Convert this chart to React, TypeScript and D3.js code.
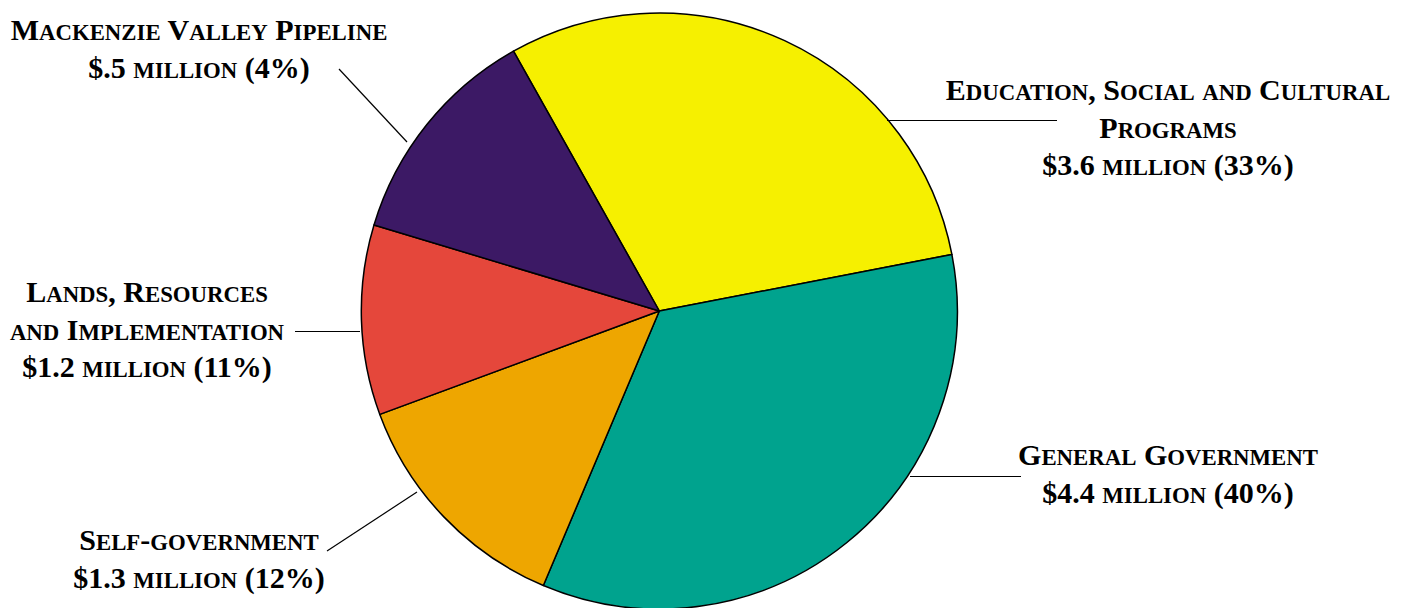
import React from "react";
import * as d3 from "d3";

// ---- data ----
const categories = [
  "Education, Social and Cultural Programs",
  "General Government",
  "Self-government",
  "Lands, Resources and Implementation",
  "Mackenzie Valley Pipeline",
];
const nameLines = [
  ["Education, Social and Cultural", "Programs"],
  ["General Government"],
  ["Self-government"],
  ["Lands, Resources", "and Implementation"],
  ["Mackenzie Valley Pipeline"],
];
const amountsMillions = [3.6, 4.4, 1.3, 1.2, 0.5];
const percents = [33, 40, 12, 11, 4];
// slice sizes as drawn in the picture (percent of the circle)
const sliceShares = [30.1, 34.4, 13.0, 10.3, 12.2];
const colors = ["#f6f000", "#00a38e", "#eea600", "#e5473b", "#3c1965"];

// ---- layout ----
const W = 1403;
const H = 608;
const CX = 659.3;
const CY = 311;
const R = 298;
const START_DEG = -29.3;
const FONT = 30;
const SC = 0.76;
const LINE_H = 37.5;

const labelLayout = [
  { x: 1168, y: 100, leader: [887, 120.5, 1057, 120.5] },
  { x: 1168, y: 465, leader: [910, 476.5, 1021, 476.5] },
  { x: 199, y: 550, leader: [327, 551, 417, 492] },
  { x: 147, y: 302, leader: [295, 331.5, 360, 331.5] },
  { x: 199, y: 40, leader: [339, 69, 407, 142] },
];

function smallCaps(text: string, key: string) {
  const runs: { s: string; small: boolean }[] = [];
  for (const ch of text) {
    const small = ch >= "a" && ch <= "z";
    const last = runs[runs.length - 1];
    if (last && last.small === small) last.s += small ? ch.toUpperCase() : ch;
    else runs.push({ s: small ? ch.toUpperCase() : ch, small });
  }
  return runs.map((r, i) => (
    <tspan key={key + i} fontSize={r.small ? FONT * SC : FONT}>
      {r.s}
    </tspan>
  ));
}

function amountText(v: number, p: number) {
  const s = v.toFixed(1).replace(/^0/, "");
  return `$${s} million (${p}%)`;
}

export default function App() {
  const startA = (START_DEG * Math.PI) / 180;
  const pie = d3
    .pie<number>()
    .sort(null)
    .value((d) => d)
    .startAngle(startA)
    .endAngle(startA + 2 * Math.PI);
  const arcs = pie(sliceShares);
  const arc = d3.arc<d3.PieArcDatum<number>>().innerRadius(0).outerRadius(R);

  return (
    <svg
      width={W}
      height={H}
      style={{ position: "absolute", left: 0, top: 0, background: "#fff" }}
    >
      <g transform={`translate(${CX},${CY})`}>
        {arcs.map((a, i) => (
          <path
            key={categories[i]}
            d={arc(a) || ""}
            fill={colors[i]}
            stroke="#000"
            strokeWidth={1.5}
            strokeLinejoin="round"
          />
        ))}
      </g>
      {labelLayout.map((l, i) => (
        <line
          key={"ld" + i}
          x1={l.leader[0]}
          y1={l.leader[1]}
          x2={l.leader[2]}
          y2={l.leader[3]}
          stroke="#000"
          strokeWidth={1.2}
        />
      ))}
      {labelLayout.map((l, i) => {
        const lines = [...nameLines[i], amountText(amountsMillions[i], percents[i])];
        return (
          <text
            key={"lb" + i}
            textAnchor="middle"
            fontFamily='"Liberation Serif", "Times New Roman", serif'
            fontWeight="bold"
            fontSize={FONT}
            fill="#000"
          >
            {lines.map((t, j) => (
              <tspan key={j} x={l.x} y={l.y + j * LINE_H}>
                {smallCaps(t, `${i}-${j}-`)}
              </tspan>
            ))}
          </text>
        );
      })}
    </svg>
  );
}
